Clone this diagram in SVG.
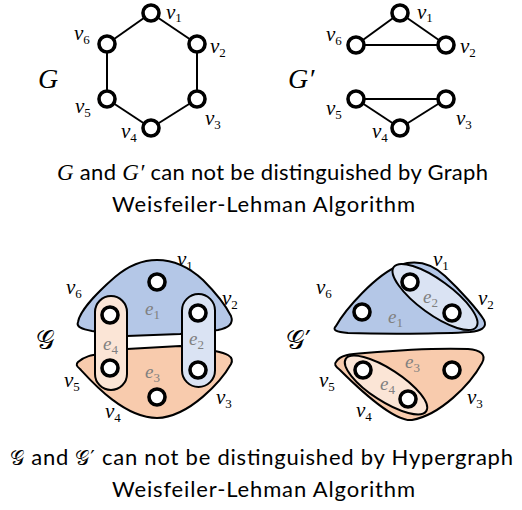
<svg xmlns="http://www.w3.org/2000/svg" width="522" height="510" viewBox="0 0 522 510">
<style>
.bg{fill:#ffffff}
.edge{stroke:#000;stroke-width:2;fill:none}
.node{fill:#fff;stroke:#000;stroke-width:3.6}
.vl{font-family:"Liberation Serif","DejaVu Serif",serif;font-style:italic;font-size:21px;fill:#000}
.sub{font-style:normal;font-size:13px}
.el{font-family:"Liberation Serif","DejaVu Serif",serif;font-style:italic;font-size:19px;fill:#808080}
.big{font-family:"Liberation Serif","DejaVu Serif",serif;font-style:italic;font-size:28px;fill:#000}
.cal{font-family:"DejaVu Serif","DejaVu Sans","Noto Sans",serif;font-style:normal;font-size:26px;fill:#000}
.cap{font-family:Lato,"Liberation Sans",sans-serif;font-size:22px;fill:#000}
.m{font-family:"Liberation Serif","DejaVu Serif",serif;font-style:italic;font-size:23px}
.mc{font-family:"DejaVu Serif","DejaVu Sans",serif;font-style:normal;font-size:20px}
.h{stroke:#000;stroke-width:2}
.blue{fill:#b4c7e7}
.orange{fill:#f8cbad}
.lblue{fill:#dae3f3}
.lorange{fill:#fbe5d6}
</style>
<rect class="bg" x="0" y="0" width="522" height="510"/>

<!-- Graph G -->
<g id="connectors-G">
<line class="edge" x1="151" y1="13" x2="197" y2="44"/>
<line class="edge" x1="197" y1="44" x2="197" y2="99"/>
<line class="edge" x1="197" y1="99" x2="151" y2="128"/>
<line class="edge" x1="151" y1="128" x2="107" y2="99"/>
<line class="edge" x1="107" y1="99" x2="107" y2="44"/>
<line class="edge" x1="107" y1="44" x2="151" y2="13"/>
</g>
<g id="G-v1"><circle class="node" cx="151" cy="13" r="8"/><text class="vl" x="166" y="19">v<tspan class="sub" dy="3">1</tspan></text></g>
<g id="G-v2"><circle class="node" cx="197" cy="44" r="8"/><text class="vl" x="210" y="53">v<tspan class="sub" dy="4">2</tspan></text></g>
<g id="G-v3"><circle class="node" cx="197" cy="99" r="8"/><text class="vl" x="205" y="125">v<tspan class="sub" dy="4">3</tspan></text></g>
<g id="G-v4"><circle class="node" cx="151" cy="128" r="8"/><text class="vl" x="121" y="138">v<tspan class="sub" dy="4">4</tspan></text></g>
<g id="G-v5"><circle class="node" cx="107" cy="99" r="8"/><text class="vl" x="75" y="113">v<tspan class="sub" dy="4">5</tspan></text></g>
<g id="G-v6"><circle class="node" cx="107" cy="44" r="8"/><text class="vl" x="74" y="40">v<tspan class="sub" dy="4">6</tspan></text></g>
<g id="G-label"><text class="big" x="38" y="88">G</text></g>

<!-- Graph G' -->
<g id="connectors-Gp">
<line class="edge" x1="400" y1="13" x2="356" y2="45"/>
<line class="edge" x1="400" y1="13" x2="446" y2="45"/>
<line class="edge" x1="356" y1="45" x2="446" y2="45"/>
<line class="edge" x1="356" y1="99" x2="446" y2="99"/>
<line class="edge" x1="356" y1="99" x2="400" y2="128"/>
<line class="edge" x1="400" y1="128" x2="446" y2="99"/>
</g>
<g id="Gp-v1"><circle class="node" cx="400" cy="13" r="8"/><text class="vl" x="417" y="19">v<tspan class="sub" dy="3">1</tspan></text></g>
<g id="Gp-v2"><circle class="node" cx="446" cy="45" r="8"/><text class="vl" x="460" y="53">v<tspan class="sub" dy="4">2</tspan></text></g>
<g id="Gp-v3"><circle class="node" cx="446" cy="99" r="8"/><text class="vl" x="456" y="125">v<tspan class="sub" dy="4">3</tspan></text></g>
<g id="Gp-v4"><circle class="node" cx="400" cy="128" r="8"/><text class="vl" x="372" y="138">v<tspan class="sub" dy="4">4</tspan></text></g>
<g id="Gp-v5"><circle class="node" cx="356" cy="99" r="8"/><text class="vl" x="326" y="115">v<tspan class="sub" dy="4">5</tspan></text></g>
<g id="Gp-v6"><circle class="node" cx="356" cy="45" r="8"/><text class="vl" x="326" y="41">v<tspan class="sub" dy="4">6</tspan></text></g>
<g id="Gp-label"><text class="big" x="288" y="88">G′</text></g>

<g id="caption-top">
<text class="cap" x="57" y="180" textLength="431"><tspan class="m">G</tspan> and <tspan class="m">G′</tspan> can not be distinguished by Graph</text>
<text class="cap" x="112" y="212" textLength="303">Weisfeiler-Lehman Algorithm</text>
</g>

<!-- Hypergraph H -->
<g id="H-e1"><path class="h blue" d="M78,322 C80,310 100,290 115,277 C128,266 142,260 157,260 C175,260 190,268 203,280 C215,292 226,306 231,316 C234,324 228,328 218,330 L180,334 L127,336 L92,331 C82,329 76,327 78,322 Z"/></g>
<g id="H-e3"><path class="h orange" d="M78,362 C85,356 92,355 100,354 L127,349 L180,346 L215,351 C225,353 235,356 231,364 C222,380 190,417 157,418 C124,418 92,382 80,369 C76,366 76,364 78,362 Z"/></g>
<g id="H-e4"><rect class="h lorange" x="95" y="296" width="32" height="94" rx="16"/></g>
<g id="H-e2"><rect class="h lblue" x="182" y="294" width="33" height="93" rx="16.5"/></g>
<g id="H-elabels">
<text class="el" x="145" y="315">e<tspan class="sub" dy="4">1</tspan></text>
<text class="el" x="189" y="345">e<tspan class="sub" dy="4">2</tspan></text>
<text class="el" x="145" y="378">e<tspan class="sub" dy="4">3</tspan></text>
<text class="el" x="103" y="350">e<tspan class="sub" dy="4">4</tspan></text>
</g>
<g id="H-v1"><circle class="node" cx="157" cy="282" r="8"/><text class="vl" x="177" y="266">v<tspan class="sub" dy="4">1</tspan></text></g>
<g id="H-v2"><circle class="node" cx="198" cy="313" r="8"/><text class="vl" x="222" y="305">v<tspan class="sub" dy="4">2</tspan></text></g>
<g id="H-v3"><circle class="node" cx="198" cy="370" r="8"/><text class="vl" x="216" y="404">v<tspan class="sub" dy="4">3</tspan></text></g>
<g id="H-v4"><circle class="node" cx="157" cy="397" r="8"/><text class="vl" x="105" y="418">v<tspan class="sub" dy="4">4</tspan></text></g>
<g id="H-v5"><circle class="node" cx="110" cy="368" r="8"/><text class="vl" x="64" y="387">v<tspan class="sub" dy="4">5</tspan></text></g>
<g id="H-v6"><circle class="node" cx="110" cy="315" r="8"/><text class="vl" x="66" y="294">v<tspan class="sub" dy="4">6</tspan></text></g>
<g id="H-label"><text class="cal" x="36" y="349">𝒢</text></g>

<!-- Hypergraph H' -->
<g id="Hp-e1"><path class="h blue" d="M336,326 C345,310 375,275 400,265 C418,259 432,264 445,276 C460,290 478,310 484,320 C488,328 480,331 470,332 C440,334 380,334 348,333 C336,332 332,330 336,326 Z"/></g>
<g id="Hp-e2"><ellipse class="h lblue" cx="435" cy="297" rx="51" ry="17" transform="rotate(36 435 297)"/></g>
<g id="Hp-e3"><path class="h orange" d="M336,362 C340,355 350,354 365,353 C400,350 440,348 468,349 C480,350 487,354 482,363 C470,385 440,415 412,420 C395,422 360,390 340,370 C335,366 334,364 336,362 Z"/></g>
<g id="Hp-e4"><ellipse class="h lorange" cx="386" cy="385" rx="48" ry="16" transform="rotate(33 386 385)"/></g>
<g id="Hp-elabels">
<text class="el" x="388" y="323">e<tspan class="sub" dy="4">1</tspan></text>
<text class="el" x="423" y="303">e<tspan class="sub" dy="4">2</tspan></text>
<text class="el" x="405" y="368">e<tspan class="sub" dy="4">3</tspan></text>
<text class="el" x="380" y="390">e<tspan class="sub" dy="4">4</tspan></text>
</g>
<g id="Hp-v1"><circle class="node" cx="410" cy="282" r="8"/><text class="vl" x="433" y="266">v<tspan class="sub" dy="4">1</tspan></text></g>
<g id="Hp-v2"><circle class="node" cx="452" cy="313" r="8"/><text class="vl" x="478" y="305">v<tspan class="sub" dy="4">2</tspan></text></g>
<g id="Hp-v3"><circle class="node" cx="452" cy="370" r="8"/><text class="vl" x="467" y="404">v<tspan class="sub" dy="4">3</tspan></text></g>
<g id="Hp-v4"><circle class="node" cx="408" cy="399" r="8"/><text class="vl" x="356" y="417">v<tspan class="sub" dy="4">4</tspan></text></g>
<g id="Hp-v5"><circle class="node" cx="363" cy="370" r="8"/><text class="vl" x="319" y="387">v<tspan class="sub" dy="4">5</tspan></text></g>
<g id="Hp-v6"><circle class="node" cx="362" cy="312" r="8"/><text class="vl" x="316" y="294">v<tspan class="sub" dy="4">6</tspan></text></g>
<g id="Hp-label"><text class="cal" x="286" y="349">𝒢′</text></g>

<g id="caption-bottom">
<text class="cap" x="10" y="465" textLength="503"><tspan class="mc">𝒢</tspan> and <tspan class="mc">𝒢′</tspan> can not be distinguished by Hypergraph</text>
<text class="cap" x="112" y="497" textLength="303">Weisfeiler-Lehman Algorithm</text>
</g>
</svg>
